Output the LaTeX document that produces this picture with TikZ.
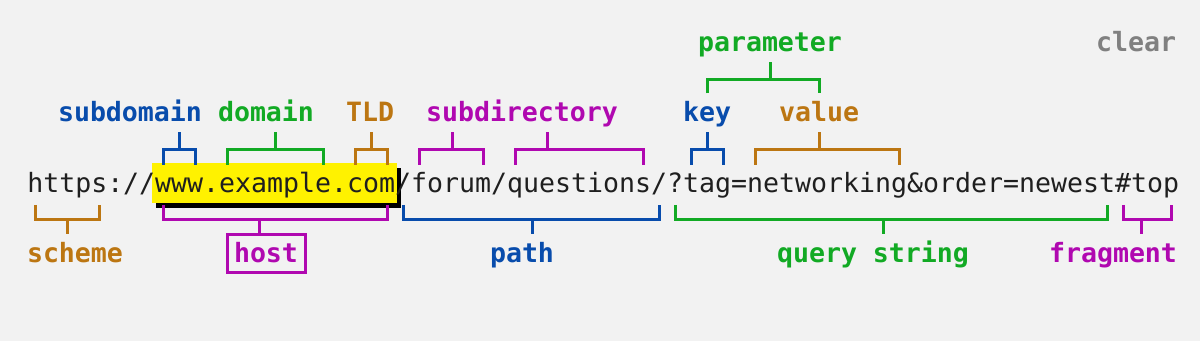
\documentclass[tikz,border=0pt]{standalone}
\usepackage{fontspec}
\setmonofont{DejaVu Sans Mono}
\usepackage{xcolor}
\usepackage{tikz}
\usetikzlibrary{calc}
\definecolor{bgray}{RGB}{242,242,242}
\definecolor{urlblue}{RGB}{8,76,172}
\definecolor{urlgreen}{RGB}{18,170,36}
\definecolor{urlorange}{RGB}{188,118,18}
\definecolor{urlmagenta}{RGB}{176,8,176}
\definecolor{urlgray}{RGB}{128,128,128}
\newcommand\urlsize{\fontsize{19.93pt}{24pt}\selectfont}

\begin{document}
\begin{tikzpicture}[
  x=0.75pt, y=-0.75pt,
  every node/.style={font=\ttfamily\urlsize},
  lbl/.style={font=\ttfamily\bfseries\urlsize, anchor=base, inner xsep=5.25pt,
    inner ysep=7.1pt, text height=14.25pt, text depth=0pt},
  brk/.style={line width=2.25pt}
]
\useasboundingbox[fill=bgray] (0,0) rectangle (1200,341);

% highlighted host
\fill[black] (156,168) rectangle (401,208);
\fill[yellow] (152,163) rectangle (397,203);
\node[anchor=base west, inner sep=0pt, text=black!88] (url) at (27,193)
  {https://www.example.com/forum/questions/?tag=networking\&order=newest\#top};

% labels
\node[lbl, text=urlblue] (subdomain) at (130,122) {subdomain};
\node[lbl, text=urlgreen] (domain) at (266,122) {domain};
\node[lbl, text=urlorange] (tld) at (370,122) {TLD};
\node[lbl, text=urlmagenta] (subdir) at (522,122) {subdirectory};
\node[lbl, text=urlblue] (key) at (707,122) {key};
\node[lbl, text=urlorange] (value) at (819,122) {value};
\node[lbl, text=urlgreen] (param) at (770,52) {parameter};
\node[lbl, text=urlgray] (clear) at (1136,52) {clear};

\node[lbl, text=urlorange] (scheme) at (75,263) {scheme};
\node[lbl, text=urlmagenta, draw=urlmagenta, line width=2.25pt] (host) at (266,263) {host};
\node[lbl, text=urlblue] (path) at (522,263) {path};
\node[lbl, text=urlgreen] (query) at (873,263) {query string};
\node[lbl, text=urlmagenta] (frag) at (1113,263) {fragment};

% brackets above the url
\foreach \c/\a/\b/\s/\l in {urlblue/8/10/179/subdomain, urlgreen/12/18/275/domain,
    urlorange/20/22/371/tld, urlmagenta/24/28/452/subdir, urlmagenta/30/38/547/subdir,
    urlblue/41/43/707/key, urlorange/45/54/819/value} {
  \draw[brk, \c] ({35+16*\a},165) |- ({35+16*\b},150) -- ({35+16*\b},165);
  \draw[brk, \c] (\s,150) -- (\s,150 |- \l.south);
}

% brackets below the url
\foreach \c/\a/\b/\s/\l in {urlorange/0/4/67/scheme, urlmagenta/8/22/259/host,
    urlblue/23/39/532/path, urlgreen/40/67/883/query, urlmagenta/68/71/1141/frag} {
  \draw[brk, \c] ({35+16*\a},205) |- ({35+16*\b},220) -- ({35+16*\b},205);
  \draw[brk, \c] (\s,220) -- (\s,220 |- \l.north);
}

% parameter = key + value
\draw[brk, urlgreen] (key.north) |- (value.north |- 0,80) -- (value.north);
\draw[brk, urlgreen] (770,80) -- (param.south);
\end{tikzpicture}
\end{document}
